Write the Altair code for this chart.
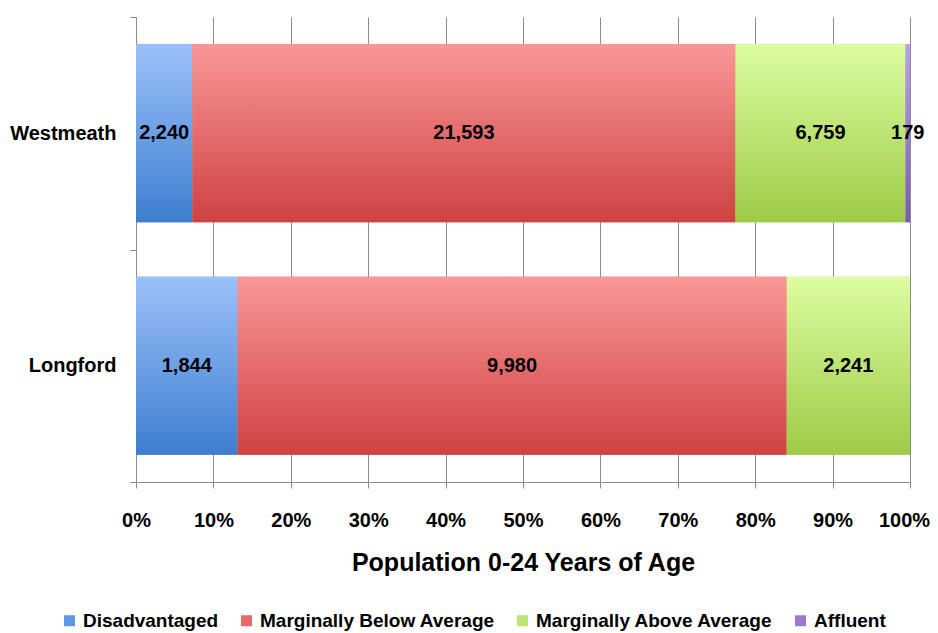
import altair as alt
import pandas as pd

counties = ["Westmeath", "Longford"]
categories = ["Disadvantaged", "Marginally Below Average", "Marginally Above Average", "Affluent"]
westmeath_values = [2240, 21593, 6759, 179]
longford_values = [1844, 9980, 2241, 0]

legend_colors = ["#5E97E6", "#E66A6A", "#BDE476", "#9B7BCB"]
grad_top = ["#9CC1FA", "#FA9797", "#DCFDA1", "#BBA2E6"]
grad_bottom = ["#3D7ED0", "#CF4242", "#9ECB46", "#7C58B2"]

rows = []
for county, vals in zip(counties, [westmeath_values, longford_values]):
    for i, (cat, v) in enumerate(zip(categories, vals)):
        rows.append({"county": county, "category": cat, "value": v, "order": i})
df = pd.DataFrame(rows)

FONT = "Liberation Sans, Arial, sans-serif"
BAR_BAND = 0.766

base = alt.Chart(df).transform_stack(
    stack="value", groupby=["county"], as_=["v1", "v2"], offset="normalize",
    sort=[alt.SortField("order", order="ascending")]
).transform_calculate(mid="(datum.v1 + datum.v2) / 2")

y_enc = alt.Y("county:N", sort=counties, title=None,
              scale=alt.Scale(paddingInner=0, paddingOuter=0),
              axis=alt.Axis(tickBand="extent", labelFont=FONT, labelFontSize=20,
                            labelFontWeight="bold", labelColor="black", labelPadding=14,
                            tickSize=6, tickColor="#8c8c8c", domainColor="#8c8c8c"))
x_enc = alt.X("v1:Q", title="Population 0-24 Years of Age",
              scale=alt.Scale(domain=[0, 1], nice=False),
              axis=alt.Axis(format=".0%", values=[i / 10 for i in range(11)],
                            grid=True, gridColor="#8c8c8c", domainColor="#8c8c8c",
                            tickColor="#8c8c8c", tickSize=6, labelFont=FONT,
                            labelFontSize=20, labelFontWeight="bold", labelColor="black",
                            labelPadding=22, labelFlush=False, labelOverlap=False,
                            labelOffset=alt.ConditionalAxisNumber(
                                condition={"test": "datum.value >= 1", "value": -6},
                                value=0),
                            titleFont=FONT, titleFontSize=25,
                            titleFontWeight="bold", titleColor="black", titlePadding=20))

legend_layer = base.mark_bar(height=alt.RelativeBandSize(BAR_BAND)).encode(
    y=y_enc, x=x_enc, x2="v2:Q",
    color=alt.Color("category:N", sort=categories,
                    scale=alt.Scale(domain=categories, range=legend_colors),
                    legend=alt.Legend(title=None, orient="none", direction="horizontal",
                                      legendX=-76, legendY=594, labelFont=FONT,
                                      labelFontSize=19, labelFontWeight="bold",
                                      labelColor="black", labelLimit=0,
                                      symbolType="square",
                                      symbolSize=121, symbolStrokeWidth=0,
                                      columnPadding=18, labelOffset=4)),
)

layers = [legend_layer]
for cat, top, bot in zip(categories, grad_top, grad_bottom):
    grad = alt.Gradient(gradient="linear",
                        stops=[alt.GradientStop(color=top, offset=0),
                               alt.GradientStop(color=bot, offset=1)],
                        x1=0, x2=0, y1=0, y2=1)
    layers.append(
        base.transform_filter(alt.datum.category == cat)
        .mark_bar(fill=grad, height=alt.RelativeBandSize(BAR_BAND))
        .encode(y=alt.Y("county:N", sort=counties), x="v1:Q", x2="v2:Q")
    )

text_layer = base.transform_filter(alt.datum.value > 0).mark_text(
    font=FONT, fontSize=20, fontWeight="bold", color="black"
).encode(
    y=alt.Y("county:N", sort=counties),
    x="mid:Q",
    text=alt.Text("value:Q", format=","),
)
layers.append(text_layer)

chart = alt.layer(*layers).properties(
    width=774, height=465,
    padding={"left": 128, "top": 9, "right": 20, "bottom": 150},
    autosize=alt.AutoSizeParams(type="none"),
).configure_view(stroke=None).configure_axisY(grid=False)

chart.save("out.html", embed_options={"renderer": "svg", "actions": False})
